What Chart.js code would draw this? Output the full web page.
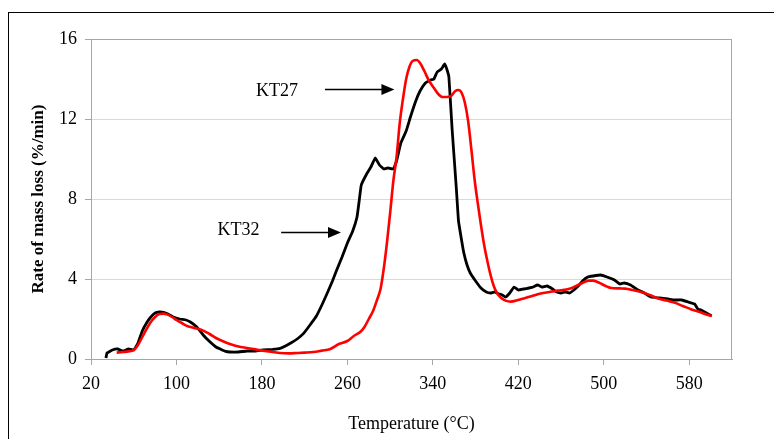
<!DOCTYPE html>
<html>
<head>
<meta charset="utf-8">
<script src="https://cdn.jsdelivr.net/npm/chart.js@4"></script>
<style>
  html, body { margin: 0; padding: 0; background: #fff; }
  #wrap { position: relative; width: 774px; height: 439px; overflow: hidden; }
  #frame { position: absolute; left: 8px; top: 12px; width: 820px; height: 520px; border: 1.5px solid #000; }
  #myChart { position: absolute; left: 0; top: 0; }
</style>
</head>
<body>
<div id="wrap">
  <div id="frame"></div>
  <canvas id="myChart" width="774" height="439"></canvas>
</div>
<script>
// KT32 (black curve)
const tempKT32 = [34, 35, 40, 45, 50, 55, 60, 64, 68, 72, 76, 80, 84, 88, 92, 97, 103, 109, 113, 119, 125, 131, 137, 141, 146, 150, 158, 166, 174, 181, 190, 197, 202, 207, 213, 219, 225, 231, 237, 242, 246, 250, 255, 260, 265, 269, 271, 273, 278, 282, 286, 290, 294, 298, 303, 306, 310, 315, 319, 324, 328, 333, 338, 341, 344, 348, 351, 353, 355, 358, 360, 362, 364, 367, 369, 372, 375, 380, 385, 390, 394, 398, 402, 405, 408, 412, 416, 420, 425, 430, 434, 438, 442, 447, 452, 456, 460, 464, 468, 472, 476, 480, 485, 490, 497, 503, 510, 515, 519, 525, 532, 538, 544, 552, 560, 566, 573, 579, 585, 588, 591, 596, 601];
const rateKT32 = [0.05, 0.3, 0.45, 0.5, 0.4, 0.5, 0.45, 0.8, 1.4, 1.8, 2.1, 2.3, 2.35, 2.33, 2.25, 2.1, 2.0, 1.95, 1.85, 1.6, 1.2, 0.87, 0.6, 0.5, 0.38, 0.35, 0.35, 0.4, 0.4, 0.45, 0.48, 0.53, 0.65, 0.8, 1.0, 1.28, 1.7, 2.15, 2.8, 3.4, 3.9, 4.45, 5.1, 5.8, 6.4, 7.1, 7.9, 8.7, 9.25, 9.6, 10.05, 9.7, 9.5, 9.55, 9.5, 9.9, 10.8, 11.4, 12.1, 12.9, 13.4, 13.8, 13.95, 14.0, 14.35, 14.5, 14.75, 14.5, 14.1, 11.5, 10.0, 8.5, 6.9, 5.9, 5.3, 4.7, 4.3, 3.9, 3.55, 3.35, 3.3, 3.35, 3.25, 3.2, 3.1, 3.3, 3.6, 3.45, 3.5, 3.55, 3.6, 3.7, 3.6, 3.65, 3.5, 3.35, 3.3, 3.35, 3.3, 3.45, 3.65, 3.9, 4.1, 4.15, 4.2, 4.1, 3.95, 3.75, 3.8, 3.7, 3.45, 3.3, 3.1, 3.05, 3.0, 2.95, 2.95, 2.85, 2.75, 2.5, 2.45, 2.3, 2.15];

// KT27 (red curve)
const tempKT27 = [44, 50, 55, 60, 64, 68, 72, 76, 80, 84, 88, 91, 96, 100, 105, 110, 115, 119, 125, 131, 137, 143, 150, 158, 166, 174, 181, 190, 197, 205, 213, 220, 228, 236, 244, 252, 260, 266, 272, 276, 280, 284, 288, 291, 294, 297, 300, 303, 306, 309, 312, 315, 318, 321, 325, 328, 332, 336, 341, 345, 349, 353, 357, 361, 364, 367, 370, 373, 376, 379, 382, 385, 388, 391, 394, 397, 400, 404, 408, 413, 418, 425, 433, 441, 449, 457, 465, 470, 475, 480, 486, 490, 494, 498, 503, 507, 515, 520, 527, 535, 543, 551, 559, 566, 574, 582, 590, 596, 601];
const rateKT27 = [0.32, 0.35, 0.38, 0.45, 0.7, 1.1, 1.5, 1.85, 2.1, 2.25, 2.27, 2.23, 2.1, 1.95, 1.8, 1.65, 1.58, 1.52, 1.42, 1.25, 1.05, 0.9, 0.75, 0.62, 0.55, 0.48, 0.42, 0.35, 0.3, 0.28, 0.3, 0.32, 0.35, 0.42, 0.5, 0.75, 0.9, 1.15, 1.35, 1.6, 2.0, 2.4, 3.0, 3.5, 4.5, 5.8, 7.3, 8.9, 10.1, 11.8, 13.0, 14.0, 14.6, 14.9, 14.95, 14.8, 14.4, 13.95, 13.55, 13.25, 13.1, 13.1, 13.15, 13.4, 13.45, 13.3, 12.8, 11.9, 10.5, 9.0, 7.8, 6.7, 5.7, 4.9, 4.2, 3.65, 3.3, 3.05, 2.92, 2.87, 2.92, 3.03, 3.15, 3.28, 3.35, 3.42, 3.48, 3.55, 3.68, 3.8, 3.92, 3.92, 3.85, 3.75, 3.62, 3.55, 3.53, 3.52, 3.45, 3.35, 3.2, 3.03, 2.92, 2.82, 2.65, 2.48, 2.35, 2.22, 2.15];

const xTicks = [20, 100, 180, 260, 340, 420, 500, 580];
const yTicks = [0, 4, 8, 12, 16];

// arrow labels: text, text centre (x, y), arrow from x0 to x1 at y
const labels = [
  { text: "KT27", tx: 194, ty: 13.4, x0: 239, x1: 304, y: 13.48 },
  { text: "KT32", tx: 158, ty: 6.45, x0: 198, x1: 254, y: 6.33 }
];

const toPoints = (xs, ys) => xs.map((x, i) => ({ x: x, y: ys[i] }));
const serif = "'Liberation Serif', 'Times New Roman', serif";

const extras = {
  id: "extras",
  beforeDatasetsDraw(chart) {
    const c = chart.ctx, a = chart.chartArea;
    c.save();
    c.strokeStyle = "#a6a6a6";
    c.lineWidth = 1;
    c.beginPath();
    c.moveTo(a.left, a.top + 0.5);
    c.lineTo(a.right - 0.5, a.top + 0.5);
    c.lineTo(a.right - 0.5, a.bottom);
    c.stroke();
    c.restore();
  },
  afterDatasetsDraw(chart) {
    const c = chart.ctx;
    const sx = chart.scales.x, sy = chart.scales.y;
    c.save();
    c.font = "18px " + serif;
    c.fillStyle = "#000";
    c.strokeStyle = "#000";
    c.lineWidth = 1.3;
    c.textAlign = "center";
    c.textBaseline = "middle";
    labels.forEach(l => {
      c.fillText(l.text, sx.getPixelForValue(l.tx), sy.getPixelForValue(l.ty));
      const y = Math.round(sy.getPixelForValue(l.y)) + 0.5;
      const x0 = sx.getPixelForValue(l.x0), x1 = sx.getPixelForValue(l.x1);
      c.beginPath();
      c.moveTo(x0, y);
      c.lineTo(x1 - 12, y);
      c.stroke();
      c.beginPath();
      c.moveTo(x1, y);
      c.lineTo(x1 - 13, y - 5.5);
      c.lineTo(x1 - 13, y + 5.5);
      c.closePath();
      c.fill();
    });
    c.restore();
  }
};

const ctx = document.getElementById("myChart");

new Chart(ctx, {
  type: "line",
  data: {
    datasets: [
      {
        label: "KT32",
        data: toPoints(tempKT32, rateKT32),
        borderColor: "#000000",
        borderWidth: 2.8,
        pointRadius: 0,
        tension: 0.1,
        order: 1
      },
      {
        label: "KT27",
        data: toPoints(tempKT27, rateKT27),
        borderColor: "#ff0000",
        borderWidth: 2.6,
        pointRadius: 0,
        cubicInterpolationMode: "monotone",
        order: 0
      }
    ]
  },
  options: {
    responsive: false,
    animation: false,
    layout: { padding: { left: 0, top: 39, right: 42, bottom: 0 } },
    plugins: {
      legend: { display: false },
      tooltip: { enabled: false }
    },
    scales: {
      x: {
        type: "linear",
        min: 20,
        max: 620,
        afterBuildTicks: scale => { scale.ticks = xTicks.map(v => ({ value: v })); },
        afterFit: scale => { scale.height = 80; },
        grid: { drawOnChartArea: false, drawTicks: true, tickLength: 6, tickColor: "#a6a6a6" },
        border: { color: "#a6a6a6", width: 1 },
        ticks: { color: "#000", padding: 8, maxRotation: 0, font: { family: serif, size: 18 } },
        title: {
          display: true,
          text: "Temperature (°C)",
          color: "#000",
          padding: { top: 4, bottom: 4 },
          font: { family: serif, size: 18 }
        }
      },
      y: {
        min: 0,
        max: 16,
        afterBuildTicks: scale => { scale.ticks = yTicks.map(v => ({ value: v })); },
        afterFit: scale => { scale.width = 91; },
        grid: {
          color: c => (c.tick && c.tick.value === 16 ? "#a6a6a6" : "#d9d9d9"),
          tickColor: "#a6a6a6",
          tickLength: 6,
          lineWidth: 1
        },
        border: { color: "#a6a6a6", width: 1 },
        ticks: { color: "#000", padding: 8, font: { family: serif, size: 18 } },
        title: {
          display: true,
          text: "Rate of mass loss (%/min)",
          color: "#000",
          padding: { top: 28, bottom: 28 },
          font: { family: serif, size: 17, weight: "bold" }
        }
      }
    }
  },
  plugins: [extras]
});
</script>
</body>
</html>
